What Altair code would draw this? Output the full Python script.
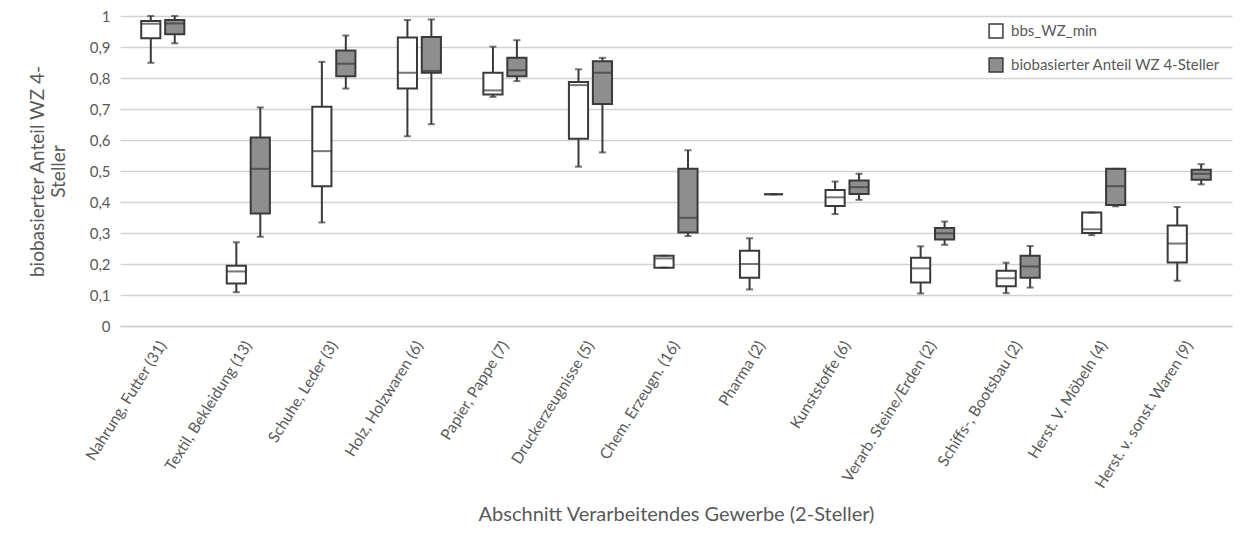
import altair as alt
import pandas as pd

categories = ["Nahrung, Futter (31)", "Textil, Bekleidung (13)", "Schuhe, Leder (3)",
              "Holz, Holzwaren (6)", "Papier, Pappe (7)", "Druckerzeugnisse (5)",
              "Chem. Erzeugn. (16)", "Pharma (2)", "Kunststoffe (6)",
              "Verarb. Steine/Erden (2)", "Schiffs-, Bootsbau (2)",
              "Herst. V. Möbeln (4)", "Herst. v. sonst. Waren (9)"]
series = ["bbs_WZ_min", "biobasierter Anteil WZ 4-Steller"]
y_ticks = [0, 0.1, 0.2, 0.3, 0.4, 0.5, 0.6, 0.7, 0.8, 0.9, 1.0]

# bbs_WZ_min
w_min = [0.849, 0.109, 0.334, 0.612, 0.739, 0.514, 0.188, 0.118, 0.361, 0.105, 0.106, 0.293, 0.146]
w_q1  = [0.928, 0.137, 0.451, 0.766, 0.747, 0.604, 0.188, 0.156, 0.387, 0.140, 0.128, 0.300, 0.205]
w_med = [0.975, 0.176, 0.564, 0.817, 0.760, 0.777, 0.218, 0.200, 0.415, 0.186, 0.154, 0.312, 0.266]
w_q3  = [0.984, 0.194, 0.707, 0.931, 0.817, 0.787, 0.227, 0.243, 0.439, 0.220, 0.178, 0.366, 0.324]
w_max = [1.000, 0.270, 0.852, 0.987, 0.901, 0.828, 0.227, 0.283, 0.466, 0.257, 0.204, 0.366, 0.384]

# biobasierter Anteil WZ 4-Steller
g_min = [0.912, 0.288, 0.766, 0.651, 0.790, 0.560, 0.290, 0.425, 0.407, 0.262, 0.124, 0.386, 0.457]
g_q1  = [0.941, 0.363, 0.806, 0.817, 0.806, 0.716, 0.302, 0.425, 0.426, 0.279, 0.156, 0.390, 0.472]
g_med = [0.976, 0.507, 0.846, 0.823, 0.825, 0.817, 0.349, 0.425, 0.448, 0.299, 0.192, 0.451, 0.491]
g_q3  = [0.987, 0.608, 0.889, 0.932, 0.865, 0.854, 0.507, 0.425, 0.469, 0.316, 0.227, 0.507, 0.504]
g_max = [1.000, 0.705, 0.937, 0.989, 0.922, 0.865, 0.567, 0.425, 0.491, 0.337, 0.258, 0.507, 0.522]

rows = []
for i, c in enumerate(categories):
    rows.append(dict(cat=c, series=series[0], lo=w_min[i], q1=w_q1[i], med=w_med[i], q3=w_q3[i], hi=w_max[i]))
    rows.append(dict(cat=c, series=series[1], lo=g_min[i], q1=g_q1[i], med=g_med[i], q3=g_q3[i], hi=g_max[i]))
df = pd.DataFrame(rows)

FONT = "Lato"
TXT = "#595959"
STROKE = "#3a3a3a"

yscale = alt.Scale(domain=[0, 1], nice=False)
yaxis = alt.Axis(title=["biobasierter Anteil WZ 4-", "Steller"],
                 values=y_ticks, tickCount=11, labelOverlap=False,
                 labelExpr="datum.value == 0 ? '0' : (datum.value == 1 ? '1' : replace(format(datum.value, '.1f'), '.', ','))",
                 labelFont=FONT, labelFontSize=15, labelColor=TXT, labelPadding=10,
                 ticks=False, domain=False, gridColor="#d2d2d2", gridWidth=1.5,
                 titleFont=FONT, titleFontSize=19, titleFontWeight="normal",
                 titleColor=TXT, titlePadding=21)

base = alt.Chart(df).encode(
    x=alt.X("cat:N", sort=categories,
            scale=alt.Scale(paddingInner=0.44, paddingOuter=0.22),
            axis=alt.Axis(title="Abschnitt Verarbeitendes Gewerbe (2-Steller)",
                          labelAngle=-58, labelFontSize=15.5, labelColor=TXT, labelFont=FONT,
                          labelPadding=16, ticks=False, domainColor="#cfcfcf", domainWidth=1.5,
                          titleFont=FONT, titleFontSize=20, titleFontWeight="normal",
                          titleColor=TXT, titleY=194, titleBaseline="alphabetic",
                          labelLimit=300)),
    xOffset=alt.XOffset("series:N", sort=series,
                        scale=alt.Scale(paddingInner=0.2, paddingOuter=0.1)),
)

whisker = base.mark_rule(color=STROKE, strokeWidth=2).encode(
    y=alt.Y("lo:Q", scale=yscale, axis=yaxis),
    y2="hi:Q",
)

box = base.mark_bar(stroke=STROKE, strokeWidth=2).encode(
    y=alt.Y("q1:Q", scale=yscale, axis=yaxis), y2="q3:Q",
    fill=alt.Fill("series:N", sort=series,
                  scale=alt.Scale(domain=series, range=["#ffffff", "#8e8e8e"]),
                  legend=alt.Legend(title=None, orient="none", legendX=868, legendY=7,
                                    symbolType="square", symbolSize=190,
                                    symbolStrokeColor=STROKE, symbolStrokeWidth=1.5,
                                    labelFont=FONT, labelFontSize=15, labelColor=TXT,
                                    rowPadding=14, labelOffset=7, labelLimit=400)),
)

median = base.mark_tick(color=STROKE, thickness=2, size=19).encode(
    y=alt.Y("med:Q", scale=yscale, axis=yaxis))
cap_lo = base.mark_tick(color=STROKE, thickness=2, size=7).encode(
    y=alt.Y("lo:Q", scale=yscale, axis=yaxis))
cap_hi = base.mark_tick(color=STROKE, thickness=2, size=7).encode(
    y=alt.Y("hi:Q", scale=yscale, axis=yaxis))

chart = alt.layer(whisker, box, median, cap_lo, cap_hi).properties(
    width=1112, height=310,
    autosize=alt.AutoSizeParams(type="none"),
    padding={"left": 112, "top": 8, "right": 5, "bottom": 199},
    background="white",
).configure_view(stroke=None)

chart.save("out.html", embed_options={"renderer": "svg", "actions": False})
